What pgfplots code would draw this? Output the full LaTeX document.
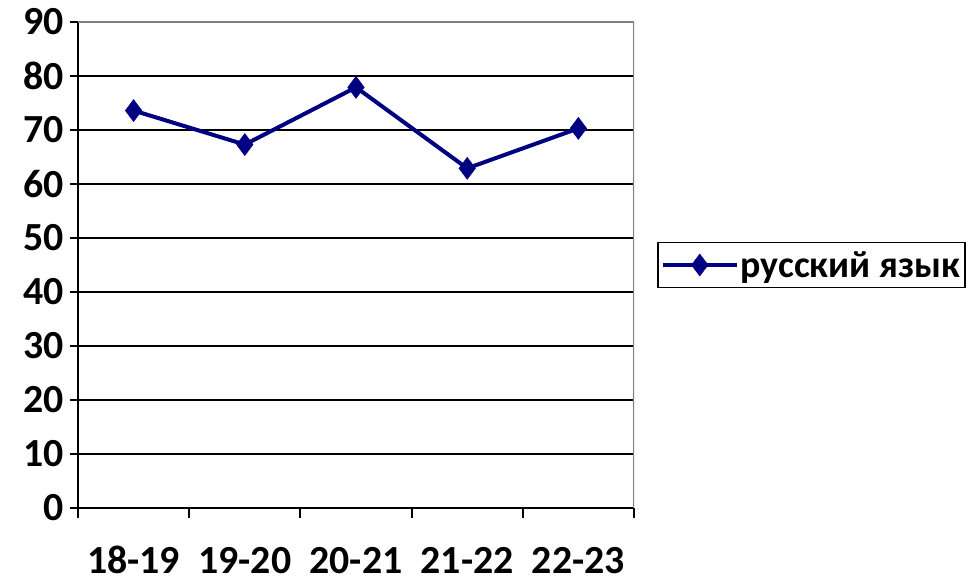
\documentclass[border=0pt]{standalone}
\usepackage{pgfplots}
\pgfplotsset{compat=1.18}
\usepackage{fontspec}
\setmainfont{Carlito}
\definecolor{navyline}{RGB}{0,0,128}
\begin{document}
\begin{tikzpicture}
\useasboundingbox (-78bp,-77bp) rectangle (893bp,508bp);
\begin{axis}[
  at={(0,0)}, anchor=south west,
  scale only axis, width=556bp, height=486bp,
  xmin=0, xmax=5, ymin=0, ymax=90,
  xtick={0.5,1.5,2.5,3.5,4.5},
  xticklabels={18-19,19-20,20-21,21-22,22-23},
  minor xtick={0,1,2,3,4,5},
  ytick={0,10,...,90},
  axis x line*=bottom, axis y line*=left,
  axis line style={-, black, line width=2bp},
  tick align=outside,
  major tick length=8bp, minor tick length=10bp,
  x tick style={draw=none},
  minor x tick style={draw=black, line width=2bp},
  y tick style={draw=black, line width=2bp},
  ymajorgrids, grid style={black, line width=1.8bp},
  /pgf/number format/assume math mode=true,
  ticklabel style={font=\fontsize{40}{46}\selectfont\bfseries},
  yticklabel style={xshift=-3bp},
  xticklabel style={anchor=base, yshift=-57bp, inner sep=1bp, text depth=0pt},
  legend style={at={(1,0.5)}, xshift=23bp, anchor=west, draw=black, line width=1.5bp,
    font=\fontsize{38}{42}\selectfont\bfseries, inner xsep=3bp, inner ysep=7bp,
    legend cell align=left},
  legend image code/.code={
    \draw[mark repeat=2, mark phase=2, #1] plot coordinates {(0bp,0bp) (37bp,0bp) (74bp,0bp)};
  },
]
\addplot[navyline, line width=4bp, mark=diamond*, mark size=11bp,
  mark options={fill=navyline, draw=navyline, line width=0.5bp}]
  coordinates {(0.5,73.6) (1.5,67.3) (2.5,77.9) (3.5,62.9) (4.5,70.3)};
\addlegendentry{русский язык}
\draw[gray, line width=3bp] (rel axis cs:0,1) -- (rel axis cs:1,1) -- (rel axis cs:1,0);
\end{axis}
\end{tikzpicture}
\end{document}
